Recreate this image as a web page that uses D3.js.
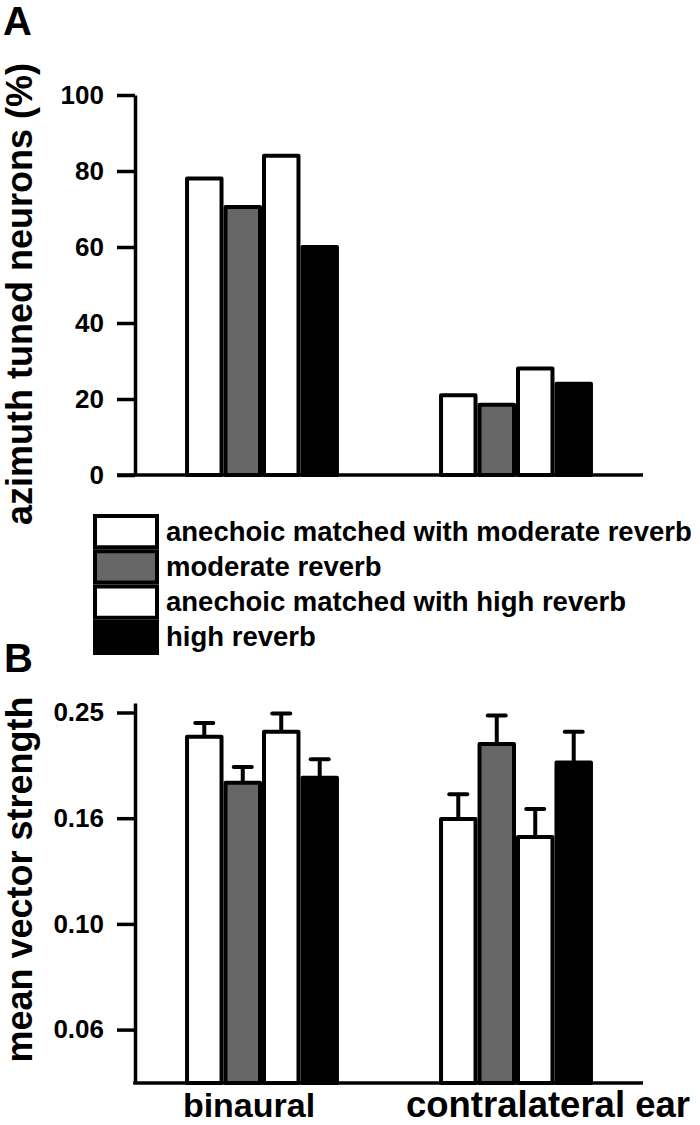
<!DOCTYPE html>
<html>
<head>
<meta charset="utf-8">
<script src="https://cdn.jsdelivr.net/npm/d3@7"></script>
<style>
  html, body { margin: 0; padding: 0; background: #fff; }
  svg { display: block; }
  text { font-family: "Liberation Sans", Arial, sans-serif; font-weight: bold; fill: #000; }
</style>
</head>
<body>
<svg id="chart" width="700" height="1125"></svg>
<script>
// ---------- data ----------
const groups = ["binaural", "contralateral ear"];
const series = [
  "anechoic matched with moderate reverb",
  "moderate reverb",
  "anechoic matched with high reverb",
  "high reverb"
];
const seriesFill = ["#ffffff", "#666666", "#ffffff", "#000000"];

// Panel A: percentage of azimuth tuned neurons
const tunedBinaural = [78, 70.5, 84, 60];
const tunedContra = [21, 18.5, 28, 24];
const tunedTicks = [0, 20, 40, 60, 80, 100];

// Panel B: mean vector strength (log axis) and upper error
const vsBinaural = [0.226, 0.185, 0.231, 0.189];
const vsBinauralErr = [0.014, 0.013, 0.019, 0.016];
const vsContra = [0.158, 0.219, 0.146, 0.202];
const vsContraErr = [0.018, 0.029, 0.019, 0.029];
const vsTickExp = [-0.6, -0.8, -1.0, -1.2];

// ---------- layout ----------
const svg = d3.select("#chart");
const axisX = 135;
const axisRight = 643;
const strokeW = 4;

const xGroup = d3.scaleBand().domain(groups).range([axisX, axisRight])
  .paddingInner(0.394).paddingOuter(0.197);
const xSeries = d3.scaleBand().domain(series).range([0, xGroup.bandwidth()]);

function styleAxis(g) {
  g.selectAll("path.domain").attr("stroke", "#000").attr("stroke-width", 3.5);
  g.selectAll(".tick line").attr("stroke", "#000").attr("stroke-width", 3.5);
  g.selectAll(".tick text").style("font-size", "26px").style("font-weight", "bold")
    .style("font-family", '"Liberation Sans", Arial, sans-serif').attr("x", -31);
}

// ---------- Panel A ----------
const yA = d3.scaleLinear().domain([0, 100]).range([475, 95]);
const dataA = [tunedBinaural, tunedContra];

const gA = svg.append("g");
groups.forEach((grp, gi) => {
  gA.append("g").selectAll("rect").data(dataA[gi]).join("rect")
    .attr("x", (d, i) => xGroup(grp) + xSeries(series[i]) + strokeW / 2)
    .attr("width", xSeries.bandwidth() - strokeW)
    .attr("y", d => yA(d))
    .attr("height", d => yA(0) - yA(d))
    .attr("fill", (d, i) => seriesFill[i])
    .attr("stroke", "#000")
    .attr("stroke-width", strokeW)
    .attr("stroke-linejoin", "round");
});

const axA = gA.append("g").attr("transform", `translate(${axisX},0)`)
  .call(d3.axisLeft(yA).tickValues(tunedTicks).tickSize(18).tickSizeOuter(0).tickFormat(d3.format("d")));
styleAxis(axA);
gA.append("line").attr("x1", axisX - 18).attr("x2", axisRight)
  .attr("y1", yA(0)).attr("y2", yA(0)).attr("stroke", "#000").attr("stroke-width", 3.5);

gA.append("text").attr("transform", `translate(32,${(60 + 528) / 2}) rotate(-90)`)
  .attr("text-anchor", "middle").style("font-size", "36px")
  .text("azimuth tuned neurons (%)");
gA.append("text").attr("x", 3).attr("y", 35).style("font-size", "40px").text("A");

// ---------- Legend ----------
const legY = d3.scaleBand().domain(series).range([514, 655]);
const leg = svg.append("g");
leg.selectAll("rect").data(series).join("rect")
  .attr("x", 93 + strokeW / 2)
  .attr("y", d => legY(d) + strokeW / 2)
  .attr("width", 66 - strokeW)
  .attr("height", legY.bandwidth() - strokeW)
  .attr("fill", (d, i) => seriesFill[i])
  .attr("stroke", "#000").attr("stroke-width", strokeW);
leg.selectAll("text").data(series).join("text")
  .attr("x", 166)
  .attr("y", d => legY(d) + legY.bandwidth() / 2 + 9)
  .style("font-size", "27.5px")
  .text(d => d);

// ---------- Panel B ----------
const yB = d3.scaleLog().domain([0.05, 0.2618]).range([1083, 703]);
const dataB = [vsBinaural, vsContra];
const errB = [vsBinauralErr, vsContraErr];
const gB = svg.append("g");

groups.forEach((grp, gi) => {
  const gg = gB.append("g");
  const cx = i => xGroup(grp) + xSeries(series[i]) + xSeries.bandwidth() / 2;
  // error bars
  gg.selectAll("line.err").data(dataB[gi]).join("line").attr("class", "err")
    .attr("x1", (d, i) => cx(i)).attr("x2", (d, i) => cx(i))
    .attr("y1", d => yB(d)).attr("y2", (d, i) => yB(d + errB[gi][i]))
    .attr("stroke", "#000").attr("stroke-width", strokeW);
  gg.selectAll("line.cap").data(dataB[gi]).join("line").attr("class", "cap")
    .attr("x1", (d, i) => cx(i) - 9).attr("x2", (d, i) => cx(i) + 9)
    .attr("y1", (d, i) => yB(d + errB[gi][i])).attr("y2", (d, i) => yB(d + errB[gi][i]))
    .attr("stroke", "#000").attr("stroke-width", strokeW).attr("stroke-linecap", "round");
  gg.selectAll("rect").data(dataB[gi]).join("rect")
    .attr("x", (d, i) => xGroup(grp) + xSeries(series[i]) + strokeW / 2)
    .attr("width", xSeries.bandwidth() - strokeW)
    .attr("y", d => yB(d))
    .attr("height", d => yB(0.05) - yB(d))
    .attr("fill", (d, i) => seriesFill[i])
    .attr("stroke", "#000")
    .attr("stroke-width", strokeW)
    .attr("stroke-linejoin", "round");
});

const axB = gB.append("g").attr("transform", `translate(${axisX},0)`)
  .call(d3.axisLeft(yB).tickValues(vsTickExp.map(e => Math.pow(10, e)))
    .tickSize(18).tickSizeOuter(0).tickFormat(d3.format(".2f")));
styleAxis(axB);
gB.append("line").attr("x1", axisX - 1.75).attr("x2", axisRight)
  .attr("y1", yB(0.05)).attr("y2", yB(0.05)).attr("stroke", "#000").attr("stroke-width", 3.5);

gB.append("text").attr("transform", `translate(32,${(692 + 1067) / 2}) rotate(-90)`)
  .attr("text-anchor", "middle").style("font-size", "36px")
  .text("mean vector strength");
gB.append("text").attr("x", 4).attr("y", 672).style("font-size", "40px").text("B");

const catCenters = [249, 548];
gB.selectAll("text.cat").data(groups).join("text").attr("class", "cat")
  .attr("x", (d, i) => catCenters[i]).attr("y", 1117)
  .attr("text-anchor", "middle").style("font-size", (d, i) => i === 0 ? "34px" : "36.5px")
  .text(d => d);
</script>
</body>
</html>
